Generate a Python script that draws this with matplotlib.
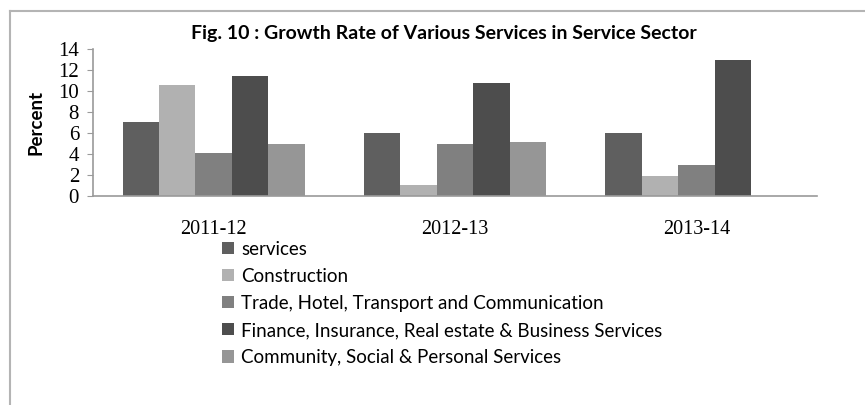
import numpy as np
import matplotlib.pyplot as plt
from matplotlib.lines import Line2D

# growth rate (percent) by year and service group
years = ["2011-12", "2012-13", "2013-14"]
series_names = [
    "services",
    "Construction",
    "Trade, Hotel, Transport and Communication",
    "Finance, Insurance, Real estate & Business Services",
    "Community, Social & Personal Services",
]
services = [7.1, 6.0, 6.0]
construction = [10.6, 1.1, 1.9]
trade = [4.1, 5.0, 3.0]
finance = [11.5, 10.8, 13.0]
community = [5.0, 5.2, 0.0]

values = [services, construction, trade, finance, community]
colors = ["#5f5f5f", "#b1b1b1", "#808080", "#4d4d4d", "#969696"]

fig = plt.figure(figsize=(8.65, 4.05), dpi=100)
ax = fig.add_axes([0.1075, 0.516, 0.837, 0.362])

x = np.arange(len(years))
n = len(values)
w = 0.755 / n
for i, (vals, c) in enumerate(zip(values, colors)):
    ax.bar(x - 0.755 / 2 + w * (i + 0.5), vals, width=w, color=c,
           label=series_names[i], linewidth=0)

ax.set_xlim(-0.5, 2.5)
ax.set_ylim(0, 14)
ax.set_yticks(range(0, 15, 2))
ax.set_xticks(x)
ax.set_xticklabels(years)

for side in ["top", "right"]:
    ax.spines[side].set_visible(False)
for side in ["left", "bottom"]:
    ax.spines[side].set_color("#9a9a9a")
    ax.spines[side].set_linewidth(1.2)

ax.tick_params(axis="y", length=4, color="#9a9a9a", pad=6,
               labelsize=15, labelfontfamily="Liberation Serif")
ax.tick_params(axis="x", length=0, pad=17,
               labelsize=14.5, labelfontfamily="Liberation Serif")

ax.set_ylabel("Percent", fontsize=13.5, fontweight="bold", family="Lato", labelpad=10)

fig.text(0.513, 0.917, "Fig. 10 : Growth Rate of Various Services in Service Sector",
         ha="center", va="center", fontsize=14, fontweight="bold", family="Lato")

# legend under the plot
handles, labels = ax.get_legend_handles_labels()
fig.legend(handles, labels, loc="upper left", bbox_to_anchor=(0.257, 0.406),
           frameon=False, prop={"family": "Lato", "size": 13.5},
           handlelength=0.62, handleheight=0.62, handletextpad=0.38,
           labelspacing=0.54, borderpad=0, borderaxespad=0)

# outer frame, only top and left edges show
fig.add_artist(Line2D([0.011, 0.011], [0, 0.973], transform=fig.transFigure,
                      color="#b4b4b4", linewidth=1.5))
fig.add_artist(Line2D([0.011, 1.0], [0.973, 0.973], transform=fig.transFigure,
                      color="#b4b4b4", linewidth=1.5))

fig.savefig("out.png", dpi=100)
